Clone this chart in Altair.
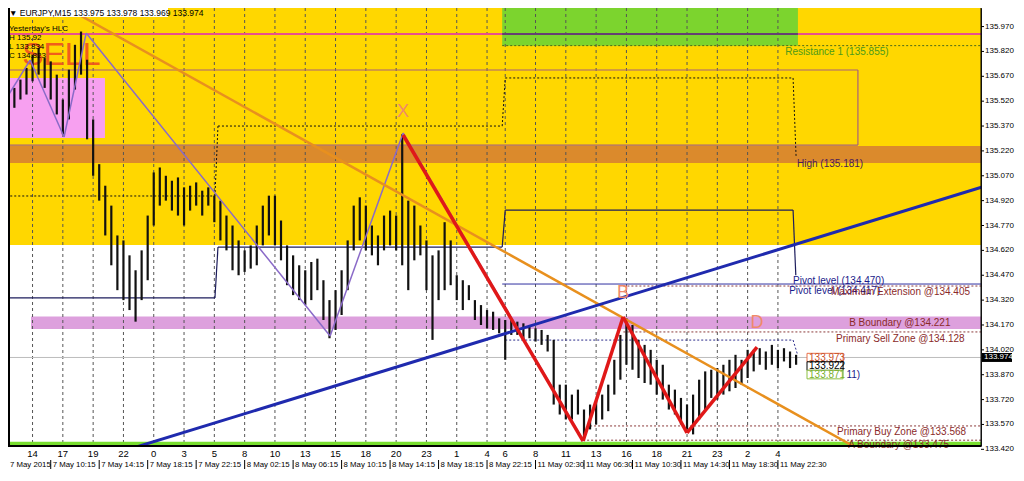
import altair as alt
import pandas as pd

# ------------------------------------------------------------------ data
bar_idx = list(range(2, 264, 2))
highs = [135.62, 135.60, 135.65, 135.72, 135.80, 135.84, 135.78, 135.76, 135.68, 135.53,
         135.71, 135.86, 135.94, 135.77, 135.41, 135.14, 135.01, 134.89, 134.71, 134.68,
         134.59, 134.50, 134.62, 134.83, 135.09, 135.12, 135.07, 135.04, 135.06, 135.00,
         135.01, 135.03, 134.98, 135.00, 134.95, 134.92, 134.83, 134.77, 134.68, 134.62,
         134.65, 134.77, 134.89, 134.95, 134.95, 134.80, 134.65, 134.59, 134.53, 134.50,
         134.55, 134.57, 134.44, 134.32, 134.38, 134.50, 134.68, 134.89, 134.94, 134.89,
         134.77, 134.71, 134.83, 134.86, 134.83, 135.32, 134.92, 134.89, 134.77, 134.68,
         134.59, 134.62, 134.79, 134.68, 134.47, 134.44, 134.41, 134.32, 134.29, 134.26,
         134.25, 134.21, 134.20, 134.20, 134.19, 134.18, 134.17, 134.15, 134.14, 134.11,
         134.08, 133.81, 133.81, 133.75, 133.78, 133.66, 133.69, 133.72, 133.75, 133.81,
         133.96, 134.11, 134.21, 134.17, 134.08, 134.05, 134.02, 133.96, 133.93, 133.81,
         133.78, 133.73, 133.69, 133.75, 133.84, 133.89, 133.90, 133.91, 133.93, 133.96,
         133.99, 133.96, 134.02, 134.02, 134.03, 134.01, 134.05, 134.02, 134.03, 134.01,
         133.99]
lows = [135.53, 135.48, 135.53, 135.56, 135.64, 135.68, 135.60, 135.53, 135.44, 135.32,
        135.41, 135.59, 135.68, 135.29, 135.07, 134.92, 134.71, 134.53, 134.38, 134.32,
        134.26, 134.19, 134.32, 134.44, 134.77, 134.89, 134.92, 134.86, 134.83, 134.77,
        134.86, 134.89, 134.83, 134.89, 134.79, 134.68, 134.62, 134.50, 134.47, 134.49,
        134.51, 134.53, 134.65, 134.71, 134.65, 134.56, 134.41, 134.35, 134.32, 134.29,
        134.32, 134.38, 134.20, 134.09, 134.14, 134.23, 134.38, 134.62, 134.68, 134.62,
        134.59, 134.53, 134.62, 134.65, 134.62, 134.53, 134.38, 134.56, 134.59, 134.38,
        134.08, 134.32, 134.38, 134.41, 134.32, 134.26, 134.32, 134.20, 134.17, 134.15,
        134.14, 134.12, 133.96, 134.11, 134.11, 134.08, 134.09, 134.07, 134.05, 134.01,
        133.69, 133.63, 133.60, 133.60, 133.63, 133.49, 133.54, 133.57, 133.60, 133.65,
        133.75, 133.84, 133.93, 133.90, 133.85, 133.82, 133.81, 133.75, 133.72, 133.66,
        133.63, 133.57, 133.54, 133.51, 133.60, 133.66, 133.73, 133.72, 133.75, 133.77,
        133.79, 133.81, 133.85, 133.89, 133.93, 133.90, 133.93, 133.91, 133.95, 133.91,
        133.93]

y_ticks = [133.420, 133.570, 133.720, 133.870, 134.020, 134.170, 134.320, 134.470, 134.620,
           134.770, 134.920, 135.070, 135.220, 135.370, 135.520, 135.670, 135.820, 135.970]

hour_labels = ["14", "17", "19", "22", "0", "3", "5", "8", "10", "13", "15", "18", "20", "23",
               "1", "4", "6", "8", "11", "13", "16", "18", "21", "23", "2", "4"]
hour_bars = [10, 20, 30, 40, 50, 60, 70, 80, 90, 100, 110, 120, 130, 140, 150, 160,
             166, 176, 186, 196, 206, 216, 226, 236, 246, 256]
date_labels = ["7 May 2015", "7 May 10:15", "7 May 14:15", "7 May 18:15", "7 May 22:15",
               "8 May 02:15", "8 May 06:15", "8 May 10:15", "8 May 14:15", "8 May 18:15",
               "8 May 22:15", "11 May 02:30", "11 May 06:30", "11 May 10:30", "11 May 14:30",
               "11 May 18:30", "11 May 22:30"]
date_bars = [0, 16, 32, 48, 64, 80, 96, 112, 128, 144, 160, 176, 192, 208, 224, 240, 256]

zigzag_bars = [0, 9.2, 20.4, 27.7, 108.2, 132.3, 191.7]
zigzag_prices = [135.497, 135.768, 135.304, 135.931, 134.104, 135.328, 133.476]

xabcd_names = ["X", "A", "B", "C", "D"]
xabcd_bars = [132.3, 191.7, 204.9, 226.0, 249.1]
xabcd_prices = [135.316, 133.470, 134.218, 133.519, 134.037]

# levels
pivot_high_steps = [(0, 134.948), (70.2, 134.948), (71.2, 135.370), (165, 135.370),
                    (166, 135.660), (261, 135.660), (262, 135.183)]
pivot_steps = [(0, 134.333), (70.2, 134.333), (71.2, 134.640), (165, 134.640),
               (166, 134.863), (261, 134.863), (261.9, 134.470)]

W, H = 973, 438
X0 = 1.9
X1 = X0 + W / 3.03
Y0, Y1 = 133.44, 136.082

xs = alt.Scale(domain=[X0, X1], nice=False, zero=False)
ys = alt.Scale(domain=[Y0, Y1], nice=False, zero=False)
FONT = "Liberation Sans"


def xq(f="x"):
    return alt.X(f"{f}:Q", scale=xs, axis=None)


def yq(f="y"):
    return alt.Y(f"{f}:Q", scale=ys, axis=None)


# ------------------------------------------------------------------ zones
zones = pd.DataFrame([
    dict(x=0, x2=X1, y=134.652, y2=Y1, c="#FFD700"),
    dict(x=165, x2=262.6, y=135.855, y2=Y1, c="#7CD42E"),
    dict(x=0, x2=33.9, y=135.298, y2=135.660, c="#F7A0F0"),
    dict(x=0, x2=X1, y=135.147, y2=135.250, c="#DB8A2C"),
    dict(x=9.5, x2=X1, y=134.145, y2=134.221, c="#DDA0DD"),
])
zone_layer = alt.Chart(zones).mark_rect(clip=True).encode(
    x=xq(), x2="x2:Q", y=yq(), y2="y2:Q", color=alt.Color("c:N", scale=None))

grid = alt.Chart(pd.DataFrame({"x": hour_bars})).mark_rule(
    color="#555555", strokeDash=[3, 3], strokeWidth=1, clip=True).encode(x=xq())

# ------------------------------------------------------------------ segments
solid = []


def seg(lst, a, b, c, w):
    lst.append(dict(x=a[0], y=a[1], x2=b[0], y2=b[1], c=c, w=w))


seg(solid, (0, 135.925), (X1, 135.925), "#E8508C", 2)
seg(solid, (165, 135.925), (262.6, 135.925), "#3A3A6A", 1.5)
seg(solid, (0, 135.708), (282.4, 135.708), "#A8607A", 1.2)
seg(solid, (0, 135.255), (282.4, 135.255), "#A8607A", 1.2)
seg(solid, (282.4, 135.255), (282.4, 135.708), "#A8607A", 1.2)
seg(solid, (0, 133.455), (X1, 133.455), "#78DE2E", 3.5)
seg(solid, (0, 133.974), (X1, 133.974), "#BDBDBD", 1)
seg(solid, (165, 134.417), (X1, 134.417), "#3030A0", 1)
for a, b in zip(pivot_steps[:-1], pivot_steps[1:]):
    seg(solid, a, b, "#1C1C5C", 1.2)
solid_df = pd.DataFrame(solid)

dashed = []
seg(dashed, (165, 135.855), (X1, 135.855), "#4A6A1A", 1)
for a, b in zip(pivot_high_steps[:-1], pivot_high_steps[1:]):
    seg(dashed, a, b, "#111111", 1)
seg(dashed, (205, 134.405), (X1, 134.405), "#8B3A3A", 1)
seg(dashed, (205, 134.128), (X1, 134.128), "#8B3A3A", 1)
seg(dashed, (194, 133.561), (X1, 133.561), "#8B3A3A", 1)
seg(dashed, (191.7, 133.475), (X1, 133.475), "#8B3A3A", 1)
seg(dashed, (166, 134.079), (261, 134.079), "#2A2A8A", 1)
seg(dashed, (261, 134.079), (262.5, 133.990), "#2A2A8A", 1)
dashed_df = pd.DataFrame(dashed)


def seg_layer(df, dash=None):
    kw = dict(clip=True)
    if dash:
        kw["strokeDash"] = dash
    return alt.Chart(df).mark_rule(**kw).encode(
        x=xq(), y=yq(), x2="x2:Q", y2="y2:Q",
        color=alt.Color("c:N", scale=None),
        strokeWidth=alt.StrokeWidth("w:Q", scale=None))


solid_layer = seg_layer(solid_df)
dashed_layer = seg_layer(dashed_df, [2, 2])

# ------------------------------------------------------------------ candles
candles = pd.DataFrame({"x": bar_idx, "hi": highs, "lo": lows})
candle_layer = alt.Chart(candles).mark_rule(color="#111111", strokeWidth=2.2, clip=True).encode(
    x=xq(), y=alt.Y("hi:Q", scale=ys, axis=None), y2="lo:Q")

# ------------------------------------------------------------------ trend / pattern lines
over = []
for i in range(len(zigzag_bars) - 1):
    seg(over, (zigzag_bars[i], zigzag_prices[i]), (zigzag_bars[i + 1], zigzag_prices[i + 1]), "#8A6AC8", 1.5)
seg(over, (18.4, 136.112), (281.4, 133.434), "#E8901E", 2.5)
seg(over, (38.9, 133.404), (327.6, 135.026), "#1F2AAE", 3)
for i in range(len(xabcd_bars) - 1):
    seg(over, (xabcd_bars[i], xabcd_prices[i]), (xabcd_bars[i + 1], xabcd_prices[i + 1]), "#E01818", 3.5)
over_layer = seg_layer(pd.DataFrame(over))

# ------------------------------------------------------------------ texts
sell = alt.Chart(pd.DataFrame({"x": [19.5], "y": [135.80], "t": ["SELL"]})).mark_text(
    font=FONT, fontSize=32, color="#F0501E", opacity=0.9,
    align="center", baseline="middle").encode(x=xq(), y=yq(), text="t:N")

letters = pd.DataFrame({"x": [132.3, 204.9, 249.1], "y": [135.455, 134.363, 134.182],
                        "t": ["X", "B", "D"]})
letter_layer = alt.Chart(letters).mark_text(
    font=FONT, fontSize=18, color="#F08A6A", align="center", baseline="middle").encode(
    x=xq(), y=yq(), text="t:N")

labels = pd.DataFrame([
    dict(x=258.4, y=135.816, t="Resistance 1 (135.855)", c="#4C9A1A"),
    dict(x=262.3, y=135.141, t="High (135.181)", c="#4A1A5A"),
    dict(x=261.0, y=134.435, t="Pivot level (134.470)", c="#1A1A8A"),
    dict(x=259.7, y=134.375, t="Pivot level (134.417)", c="#1A1A8A"),
    dict(x=273.5, y=134.369, t="Maximum Extension @134.405", c="#8B2A2A"),
    dict(x=279.5, y=134.182, t="B Boundary @134.221", c="#8B2A2A"),
    dict(x=275.2, y=134.086, t="Primary Sell Zone @134.128", c="#8B2A2A"),
    dict(x=275.5, y=133.525, t="Primary Buy Zone @133.568", c="#8B2A2A"),
    dict(x=279.2, y=133.446, t="A Boundary @133.475", c="#8B2A2A"),
    dict(x=278.6, y=133.871, t="11)", c="#1A1A8A"),
])
label_layer = alt.Chart(labels).mark_text(
    font=FONT, fontSize=10, align="left", baseline="middle").encode(
    x=xq(), y=yq(), text="t:N", color=alt.Color("c:N", scale=None))

boxes = pd.DataFrame([
    dict(x=265.6, x2=277.5, y=133.973 + 0.026, y2=133.973 - 0.026, t="133.973", c="#E8704A", tc="#C8502A"),
    dict(x=265.6, x2=277.5, y=133.922 + 0.026, y2=133.922 - 0.026, t="133.922", c="#000000", tc="#000000"),
    dict(x=265.6, x2=277.5, y=133.871 + 0.026, y2=133.871 - 0.026, t="133.871", c="#8CC040", tc="#7AB030"),
])
boxes["ym"] = [133.973, 133.922, 133.871]
box_layer = alt.Chart(boxes).mark_rect(fill="white", strokeWidth=1).encode(
    x=xq(), x2="x2:Q", y=yq(), y2="y2:Q", stroke=alt.Stroke("c:N", scale=None))
box_text = alt.Chart(boxes).mark_text(font=FONT, fontSize=10, align="left", baseline="middle", dx=2).encode(
    x=xq(), y=yq("ym"), text="t:N", color=alt.Color("tc:N", scale=None))

# header / top-left info
hdr_bg = alt.Chart(pd.DataFrame({"a": [0]})).mark_rect(fill="white").encode(
    x=alt.value(0), x2=alt.value(160), y=alt.value(0), y2=alt.value(9))
hdr = alt.Chart(pd.DataFrame({"t": ["\u25BC EURJPY,M15  133.975 133.978 133.969 133.974"]})).mark_text(
    font=FONT, fontSize=8.5, align="left", baseline="middle", color="black").encode(
    x=alt.value(1), y=alt.value(4.5), text="t:N")
info_lines = ["Yesterday's HLC", "H 135.92", "L 133.834", "C 134.823"]
info_layer = alt.Chart(pd.DataFrame({"t": ["\n".join(info_lines)]})).mark_text(
    font=FONT, fontSize=8, align="left", baseline="top", color="black",
    lineBreak="\n", lineHeight=9).encode(
    x=alt.value(1), y=alt.value(17), text="t:N")

# right price scale (drawn as marks)
ytick_df = pd.DataFrame({"y": y_ticks, "t": [f"{v:.3f}" for v in y_ticks]})
ytick_rules = alt.Chart(ytick_df).mark_rule(color="black", strokeWidth=1).encode(
    x=alt.value(W), x2=alt.value(W + 3), y=yq())
ytick_text = alt.Chart(ytick_df).mark_text(font=FONT, fontSize=8, color="black",
                                           align="left", baseline="middle").encode(
    x=alt.value(W + 4), y=yq(), text="t:N")
right_line = alt.Chart(pd.DataFrame({"a": [0]})).mark_rule(color="black", strokeWidth=1).encode(
    x=alt.value(W), x2=alt.value(W), y=alt.value(0), y2=alt.value(H))

# current price box on right axis
cur = pd.DataFrame({"y": [133.974 + 0.027], "y2": [133.974 - 0.027], "ym": [133.974], "t": ["133.974"]})
cur_box = alt.Chart(cur).mark_rect(fill="black").encode(
    x=alt.value(W + 1), x2=alt.value(W + 31), y=yq(), y2="y2:Q")
cur_txt = alt.Chart(cur).mark_text(font=FONT, fontSize=8, color="white",
                                   align="left", baseline="middle").encode(
    x=alt.value(W + 3), y=yq("ym"), text="t:N")

# bottom time axis
hours = pd.DataFrame({"x": hour_bars, "t": hour_labels})
hour_layer = alt.Chart(hours).mark_text(font=FONT, fontSize=9.5, align="center", baseline="middle",
                                        color="black").encode(
    x=xq(), y=alt.value(H + 8), text="t:N")
dates = pd.DataFrame({"x": [max(b, X0) for b in date_bars], "t": date_labels})
date_layer = alt.Chart(dates).mark_text(font=FONT, fontSize=7.8, align="left", baseline="middle",
                                        color="black", dx=2).encode(
    x=xq(), y=alt.value(H + 19), text="t:N")
date_ticks = alt.Chart(pd.DataFrame({"x": [b for b in date_bars if b > X0]})).mark_rule(
    color="black", strokeWidth=1).encode(x=xq(), y=alt.value(H + 14), y2=alt.value(H + 23))

frame = alt.Chart(pd.DataFrame({"a": [0]})).mark_rule(color="black", strokeWidth=2).encode(
    x=alt.value(0), x2=alt.value(W), y=alt.value(H), y2=alt.value(H))
frame_l = alt.Chart(pd.DataFrame({"a": [0]})).mark_rule(color="black", strokeWidth=2).encode(
    x=alt.value(1), x2=alt.value(1), y=alt.value(0), y2=alt.value(H))

chart = alt.layer(
    zone_layer, grid, solid_layer, dashed_layer, sell, candle_layer, over_layer,
    letter_layer, box_layer, box_text, label_layer, hdr_bg, hdr, info_layer,
    ytick_rules, ytick_text, right_line, cur_box, cur_txt,
    hour_layer, date_layer, date_ticks, frame, frame_l,
).properties(
    width=W, height=H,
    autosize=alt.AutoSizeParams(type="none"),
    padding={"left": 0, "top": 0, "right": 35, "bottom": 23},
    background="white",
).configure_view(stroke="#222222", strokeWidth=1)

chart.save("out.html", embed_options={"renderer": "svg", "actions": False})
